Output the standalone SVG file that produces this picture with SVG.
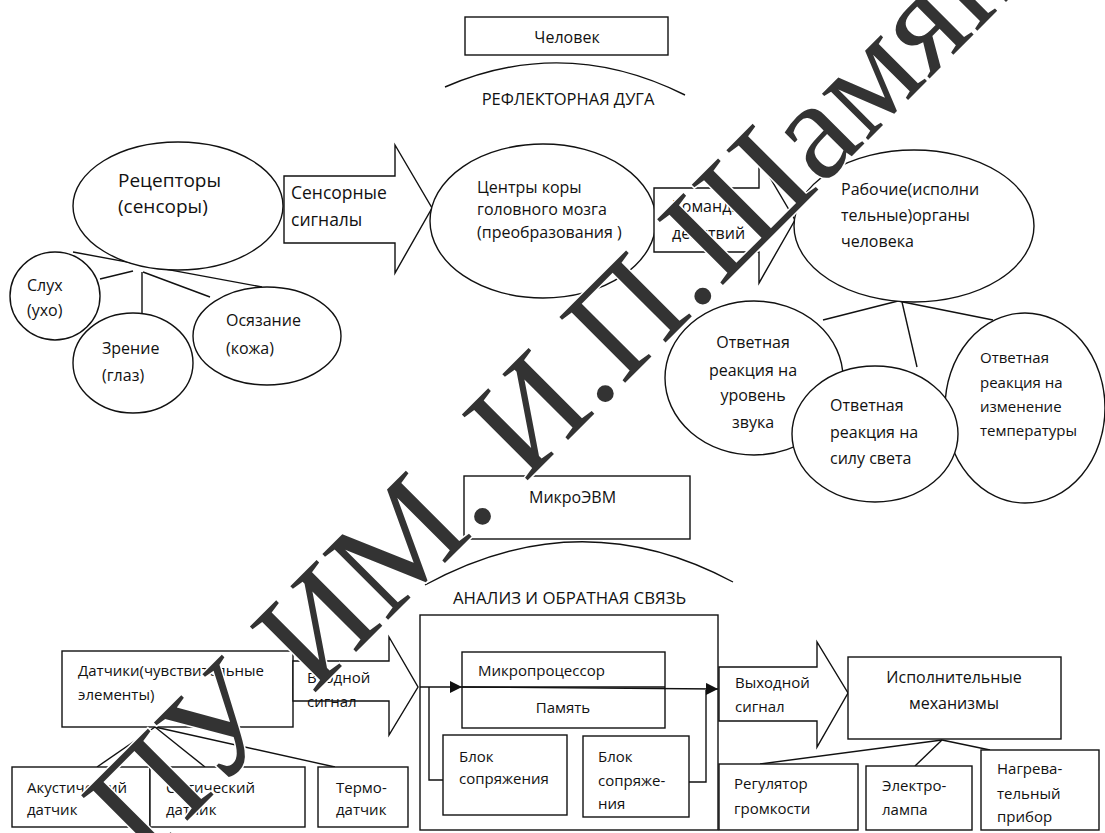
<svg xmlns="http://www.w3.org/2000/svg" width="1105" height="833" viewBox="0 0 1105 833">
<style>
.s{fill:#fff;stroke:#111;stroke-width:1.4}
.l{fill:none;stroke:#111;stroke-width:1.4}
.t{font-family:"Open Sans","Noto Sans",sans-serif;font-size:16px;fill:#111}
.m{text-anchor:middle}
.wm{font-family:"Liberation Serif","DejaVu Serif",serif;font-size:142px;fill:#333;stroke:#fff;stroke-width:3;paint-order:stroke}
</style>
<defs>
<marker id="ah" viewBox="0 0 10 10" refX="10" refY="5" markerWidth="12" markerHeight="12" markerUnits="userSpaceOnUse" orient="auto"><path d="M0,0L10,5L0,10z" fill="#111"/></marker>
</defs>
<rect width="1105" height="833" fill="#fff"/>

<g id="connectors">
<path class="l" d="M445,87 Q565,35 685,95"/>
<path class="l" d="M425,585 Q580,500 733,582"/>
<line class="l" x1="73" y1="252" x2="262" y2="287"/>
<line class="l" x1="100" y1="279" x2="133" y2="271"/>
<line class="l" x1="142" y1="272" x2="142" y2="314"/>
<line class="l" x1="143" y1="272" x2="210" y2="297"/>
<line class="l" x1="898" y1="301" x2="823" y2="320"/>
<line class="l" x1="902" y1="302" x2="917" y2="367"/>
<line class="l" x1="898" y1="301" x2="993" y2="320"/>
<line class="l" x1="155" y1="727" x2="97" y2="767"/>
<line class="l" x1="155" y1="727" x2="205" y2="767"/>
<line class="l" x1="155" y1="727" x2="335" y2="767"/>
<line class="l" x1="942" y1="740" x2="760" y2="764"/>
<line class="l" x1="942" y1="740" x2="915" y2="766"/>
<line class="l" x1="942" y1="740" x2="990" y2="750"/>
</g>

<g id="n-chelovek"><rect class="s" x="465" y="17" width="203" height="38"/><text class="t m" x="567" y="43">Человек</text></g>
<g id="n-arc1"><text class="t m" x="568" y="105" style="font-size:16.5px">РЕФЛЕКТОРНАЯ ДУГА</text></g>

<g id="n-receptors"><ellipse class="s" cx="178" cy="206" rx="105" ry="64"/><text class="t" x="118" y="187" style="font-size:19px">Рецепторы</text><text class="t" x="118" y="213" style="font-size:19px">(сенсоры)</text></g>
<g id="a-sensor"><polygon class="s" points="284,176 395,176 395,145 432,208 395,273 395,243 284,243"/><text class="t" x="291" y="199" style="font-size:17.5px">Сенсорные</text><text class="t" x="291" y="226" style="font-size:17.5px">сигналы</text></g>
<g id="n-centers"><ellipse class="s" cx="543" cy="221" rx="113" ry="77"/><text class="t" x="477" y="193">Центры коры</text><text class="t" x="477" y="215">головного мозга</text><text class="t" x="477" y="238">(преобразования )</text></g>
<g id="a-commands"><polygon class="s" points="654,188 759,188 759,159 795,220 759,283 759,252 654,252"/><text class="t" x="672" y="212">Команды</text><text class="t" x="672" y="239">действий</text></g>
<g id="n-organs"><ellipse class="s" cx="914" cy="226" rx="120" ry="76"/><text class="t" x="841" y="195">Рабочие(исполни</text><text class="t" x="841" y="221">тельные)органы</text><text class="t" x="841" y="247">человека</text></g>

<g id="n-sluh"><ellipse class="s" cx="55" cy="296" rx="45" ry="44"/><text class="t" x="27" y="291">Слух</text><text class="t" x="27" y="316">(ухо)</text></g>
<g id="n-zrenie"><ellipse class="s" cx="133" cy="363" rx="60" ry="50"/><text class="t" x="102" y="354">Зрение</text><text class="t" x="102" y="381">(глаз)</text></g>
<g id="n-osyaz"><ellipse class="s" cx="267" cy="336" rx="74" ry="49"/><text class="t" x="226" y="326">Осязание</text><text class="t" x="226" y="354">(кожа)</text></g>

<g id="n-zvuk"><ellipse class="s" cx="754" cy="378" rx="89" ry="77"/><text class="t m" x="753" y="348">Ответная</text><text class="t m" x="753" y="376">реакция на</text><text class="t m" x="753" y="401">уровень</text><text class="t m" x="753" y="428">звука</text></g>
<g id="n-temp"><ellipse class="s" cx="1025" cy="408" rx="80" ry="95"/><text class="t" x="980" y="363" style="font-size:15px">Ответная</text><text class="t" x="980" y="388" style="font-size:15px">реакция на</text><text class="t" x="980" y="412" style="font-size:15px">изменение</text><text class="t" x="980" y="436" style="font-size:15px">температуры</text></g>
<g id="n-svet"><ellipse class="s" cx="875" cy="434" rx="83" ry="68"/><text class="t" x="830" y="411">Ответная</text><text class="t" x="830" y="438">реакция на</text><text class="t" x="830" y="464">силу света</text></g>

<g id="n-micro"><rect class="s" x="464" y="476" width="226" height="63"/><text class="t" x="529" y="503">МикроЭВМ</text></g>
<g id="n-arc2"><text class="t" x="453" y="604" style="font-size:16.8px">АНАЛИЗ И ОБРАТНАЯ СВЯЗЬ</text></g>

<g id="n-sensors"><rect class="s" x="62" y="651" width="231" height="76"/><text class="t" x="78" y="676" style="font-size:15px">Датчики(чувствительные</text><text class="t" x="78" y="700" style="font-size:15px">элементы)</text></g>
<g id="a-input"><polygon class="s" points="293,661 389,661 389,637 418,687 389,735 389,701 293,701"/><text class="t" x="307" y="683" style="font-size:15px">Входной</text><text class="t" x="307" y="707" style="font-size:15px">сигнал</text></g>

<g id="n-analysis">
<rect class="s" x="420" y="615" width="298" height="215"/>
<rect class="s" x="462" y="652" width="203" height="76"/>
<line class="l" x1="462" y1="687" x2="665" y2="687"/>
<text class="t" x="478" y="676" style="font-size:15px">Микропроцессор</text>
<text class="t m" x="563" y="713" style="font-size:15px">Память</text>
<rect class="s" x="443" y="735" width="124" height="80"/>
<text class="t" x="459" y="762" style="font-size:15px">Блок</text><text class="t" x="459" y="784" style="font-size:15px">сопряжения</text>
<rect class="s" x="583" y="736" width="106" height="81"/>
<text class="t" x="598" y="762" style="font-size:15px">Блок</text><text class="t" x="598" y="786" style="font-size:15px">сопряже-</text><text class="t" x="598" y="809" style="font-size:15px">ния</text>
<path class="l" d="M420,687 L462,687" marker-end="url(#ah)"/>
<path class="l" d="M462,687 L718,689" marker-end="url(#ah)"/>
<path class="l" d="M429,687 V780 H443"/>
<path class="l" d="M689,782 H706 V690"/>
</g>

<g id="a-output"><polygon class="s" points="719,667 817,667 817,642 848,693 817,747 817,721 719,721"/><text class="t" x="735" y="688" style="font-size:15px">Выходной</text><text class="t" x="735" y="712" style="font-size:15px">сигнал</text></g>
<g id="n-actuators"><rect class="s" x="848" y="657" width="213" height="82"/><text class="t m" x="954" y="683">Исполнительные</text><text class="t m" x="954" y="709">механизмы</text></g>

<g id="n-acoustic"><rect class="s" x="12" y="767" width="138" height="60"/><text class="t" x="27" y="793" style="font-size:15px">Акустический</text><text class="t" x="27" y="815" style="font-size:15px">датчик</text></g>
<g id="n-optic"><rect class="s" x="150" y="767" width="155" height="60"/><text class="t" x="166" y="793" style="font-size:15px">Оптический</text><text class="t" x="166" y="815" style="font-size:15px">датчик</text></g>
<g id="n-thermo"><rect class="s" x="318" y="767" width="90" height="60"/><text class="t" x="336" y="793" style="font-size:15px">Термо-</text><text class="t" x="336" y="815" style="font-size:15px">датчик</text></g>

<g id="n-volume"><rect class="s" x="719" y="764" width="139" height="66"/><text class="t" x="734" y="789" style="font-size:15px">Регулятор</text><text class="t" x="734" y="814" style="font-size:15px">громкости</text></g>
<g id="n-lamp"><rect class="s" x="866" y="766" width="106" height="64"/><text class="t" x="882" y="791" style="font-size:15px">Электро-</text><text class="t" x="882" y="815" style="font-size:15px">лампа</text></g>
<g id="n-heater"><rect class="s" x="981" y="750" width="118" height="80"/><text class="t" x="997" y="774" style="font-size:15px">Нагрева-</text><text class="t" x="997" y="799" style="font-size:15px">тельный</text><text class="t" x="997" y="822" style="font-size:15px">прибор</text></g>

<g id="watermark"><text class="wm" transform="translate(144,864) rotate(-45)">ПУ ИМ. И.П.Шамяк</text></g>
</svg>
